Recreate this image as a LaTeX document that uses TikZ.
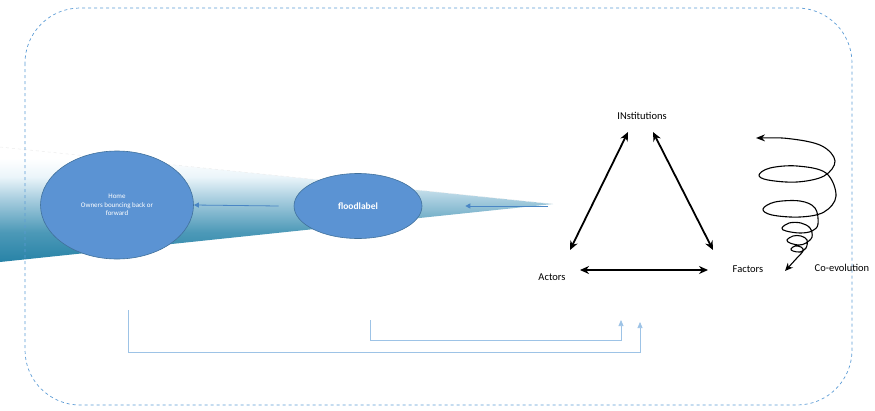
\documentclass[tikz,border=0pt]{standalone}
\usepackage{fontspec}
\setmainfont{Carlito}
\usetikzlibrary{arrows.meta,shapes.geometric}
\definecolor{frameblue}{HTML}{5B9BD5}
\definecolor{ellfill}{HTML}{5B93D3}
\definecolor{elldraw}{HTML}{41719C}
\definecolor{lineblue}{HTML}{9DC3E6}
\definecolor{arrblue}{HTML}{4A86C5}
\pgfdeclareverticalshading{beam}{100bp}{
  rgb(0bp)=(0.07,0.45,0.60);
  rgb(20bp)=(0.10,0.48,0.63);
  rgb(38bp)=(0.30,0.60,0.72);
  rgb(52bp)=(0.65,0.80,0.87);
  rgb(62bp)=(0.92,0.96,0.98);
  rgb(70bp)=(1,1,1);
  rgb(100bp)=(1,1,1)}
\tikzset{
  blob/.style={ellipse, draw=elldraw, fill=ellfill, line width=0.6pt, text=white, align=center, inner sep=0pt},
  flowarrow/.style={draw=arrblue, line width=0.8pt, -{Triangle[length=5pt,width=5pt]}},
  tri/.style={draw=black, line width=1.8pt, {Stealth[length=9pt,width=8pt]}-{Stealth[length=9pt,width=8pt]}},
  lbl/.style={font=\fontsize{10.5}{12}\selectfont, text=black},
  feed/.style={draw=lineblue, line width=0.7pt, -{Triangle[length=6pt,width=5pt]}},
}
\begin{document}
\begin{tikzpicture}[x=1pt,y=-1pt]
\useasboundingbox (0,0) rectangle (875,410);
% wedge
\shade[shading=beam] (0,147) -- (553,204) -- (0,262) -- cycle;
\draw[white!85!gray, dashed, line width=0.5pt] (0,147) -- (553,204);
% frame
\draw[frameblue, dashed, line width=0.7pt, rounded corners=55pt] (25,8) rectangle (852,405);
% ellipses
\node[blob, minimum width=153pt, minimum height=108pt, font=\fontsize{7}{8.5}\selectfont] (home) at (117,205) {Home\\Owners bouncing back or\\forward};
\node[blob, minimum width=128pt, minimum height=65pt, font=\bfseries\fontsize{9.5}{11}\selectfont] (flood) at (358,206) {floodlabel};
\coordinate (beamtip) at (548,206);
\draw[flowarrow] (beamtip) -- ([xshift=43pt]flood.east);
\draw[flowarrow] (flood.west) ++(-15pt,0) coordinate (fw) -- (home.east);
% triangle
\node[lbl] (inst) at (642,116) {INstitutions};
\node[lbl] (act) at (552,277) {Actors};
\node[lbl] (fac) at (748,269) {Factors};
\draw[tri] (628,132) -- (570,250);
\draw[tri] (653,132) -- (713,250);
\draw[tri] (580,270) -- (708,270);
% spiral
\node[lbl] (coev) at (842,268) {Co-evolution};
\draw[black, line width=1.1pt, {Stealth[length=9pt,width=7pt]}-{Stealth[length=8pt,width=7pt]}]
  plot[smooth, tension=0.6] coordinates {
   (756,138) (792,139) (822,146) (835,161)
   (824,176) (797,182) (768,180) (759,175) (770,168) (797,166) (826,173)
   (836,196) (824,212) (800,217) (772,215) (763,209) (775,202) (800,201) (815,208)
   (818,224) (812,231) (800,233) (786,231) (782,228) (789,223) (801,223) (810,228)
   (812,237) (806,243) (799,245) (790,243) (787,240) (793,236) (801,236) (807,240)
   (806,248) (800,252) (793,251) (791,249) (795,246) (801,247) (803,251)
   (796,259) (785,271)};
% feedback lines
\coordinate (h0) at (128,310);
\coordinate (h1) at (128,352);
\coordinate (h2) at (640,352);
\coordinate (h3) at (640,322);
\coordinate (f0) at (370,320);
\coordinate (f1) at (370,340);
\coordinate (f2) at (621,340);
\coordinate (f3) at (621,320);
\draw[feed] (h0) -- (h1) -- (h2) -- (h3);
\draw[feed] (f0) -- (f1) -- (f2) -- (f3);
\end{tikzpicture}
\end{document}
